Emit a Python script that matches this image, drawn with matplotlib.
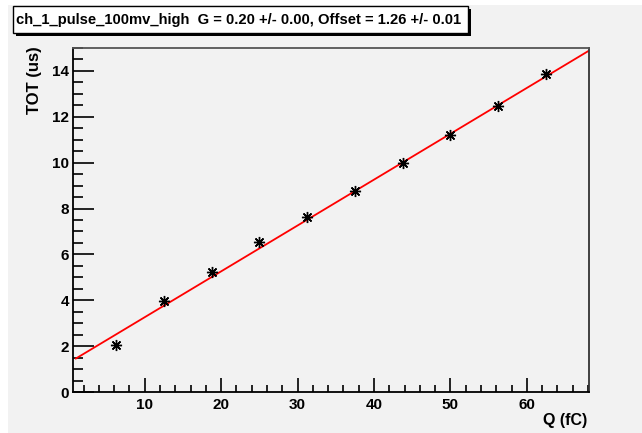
import numpy as np
import matplotlib
matplotlib.use('Agg')
from matplotlib import pyplot as plt
from matplotlib.patches import Rectangle
from matplotlib.ticker import MultipleLocator

# measured charge and time over threshold
charge = [6.25, 12.5, 18.75, 25.0, 31.25, 37.5, 43.75, 50.0, 56.25, 62.5]
tot = [2.04, 3.96, 5.23, 6.54, 7.62, 8.78, 9.99, 11.20, 12.49, 13.88]

# fit result
gain = 0.20
offset = 1.26
fit_range = [1.0, 68.0]

title = 'ch_1_pulse_100mv_high  G = 0.20 +/- 0.00, Offset = 1.26 +/- 0.01'

W, H = 642, 433
bg = '#f2f2f2'
plt.rcParams['font.family'] = ['Liberation Sans', 'DejaVu Sans']
plt.rcParams['font.weight'] = 'bold'

fig = plt.figure(figsize=(W / 100, H / 100), dpi=100)
fig.patch.set_facecolor(bg)
# white margin strips on the left and top
fig.patches.append(Rectangle((0, 0), 8 / W, 1, transform=fig.transFigure,
                             facecolor='white', edgecolor='none', zorder=-5))
fig.patches.append(Rectangle((0, 1 - 5 / H), 1, 5 / H, transform=fig.transFigure,
                             facecolor='white', edgecolor='none', zorder=-5))

ax = fig.add_axes([73 / W, 1 - 392 / H, (589 - 73) / W, (392 - 48) / H])
ax.set_facecolor(bg)

xf = np.array(fit_range)
ax.plot(xf, gain * xf + offset, color='red', lw=1.3, zorder=2)
ax.plot(charge, tot, linestyle='none', marker=(8, 2, 0), markersize=8,
        markeredgewidth=1.0, color='black', zorder=3)

ax.set_xlim(0.625, 68.125)
ax.set_ylim(0, 15)
ax.xaxis.set_major_locator(MultipleLocator(10))
ax.xaxis.set_minor_locator(MultipleLocator(2))
ax.yaxis.set_major_locator(MultipleLocator(2))
ax.yaxis.set_minor_locator(MultipleLocator(0.5))
ax.tick_params(which='both', direction='in', top=False, right=False,
               labelsize=11, color='black', width=1.2)
ax.tick_params(axis='x', which='major', length=10, pad=4)
ax.tick_params(axis='x', which='minor', length=5)
ax.tick_params(axis='y', which='major', length=15, pad=3)
ax.tick_params(axis='y', which='minor', length=7.5)
for s in ax.spines.values():
    s.set_linewidth(1.3)
ax.spines['top'].set_color('#555555')
ax.spines['right'].set_color('#333333')
for lab in ax.get_xticklabels() + ax.get_yticklabels():
    lab.set_fontweight('bold')

fig.text(587 / W, 1 - 421 / H, 'Q (fC)', ha='right', va='center',
         fontsize=11.5, fontweight='bold')
fig.text(34 / W, 1 - 46 / H, 'TOT (us)', ha='center', va='top', rotation=90,
         fontsize=12, fontweight='bold')

# title box with shadow
fig.patches.append(Rectangle((16 / W, 1 - 36 / H), 455 / W, 27 / H,
                             transform=fig.transFigure, facecolor='black',
                             edgecolor='none', zorder=4))
fig.patches.append(Rectangle((13 / W, 1 - 33 / H), 455 / W, 27 / H,
                             transform=fig.transFigure, facecolor='white',
                             edgecolor='black', lw=1.0, zorder=5))
fig.text(16 / W, 1 - 20 / H, title, ha='left', va='center', fontsize=10.6,
         fontweight='bold', zorder=6)

fig.savefig('out.png', dpi=100, facecolor=bg)
